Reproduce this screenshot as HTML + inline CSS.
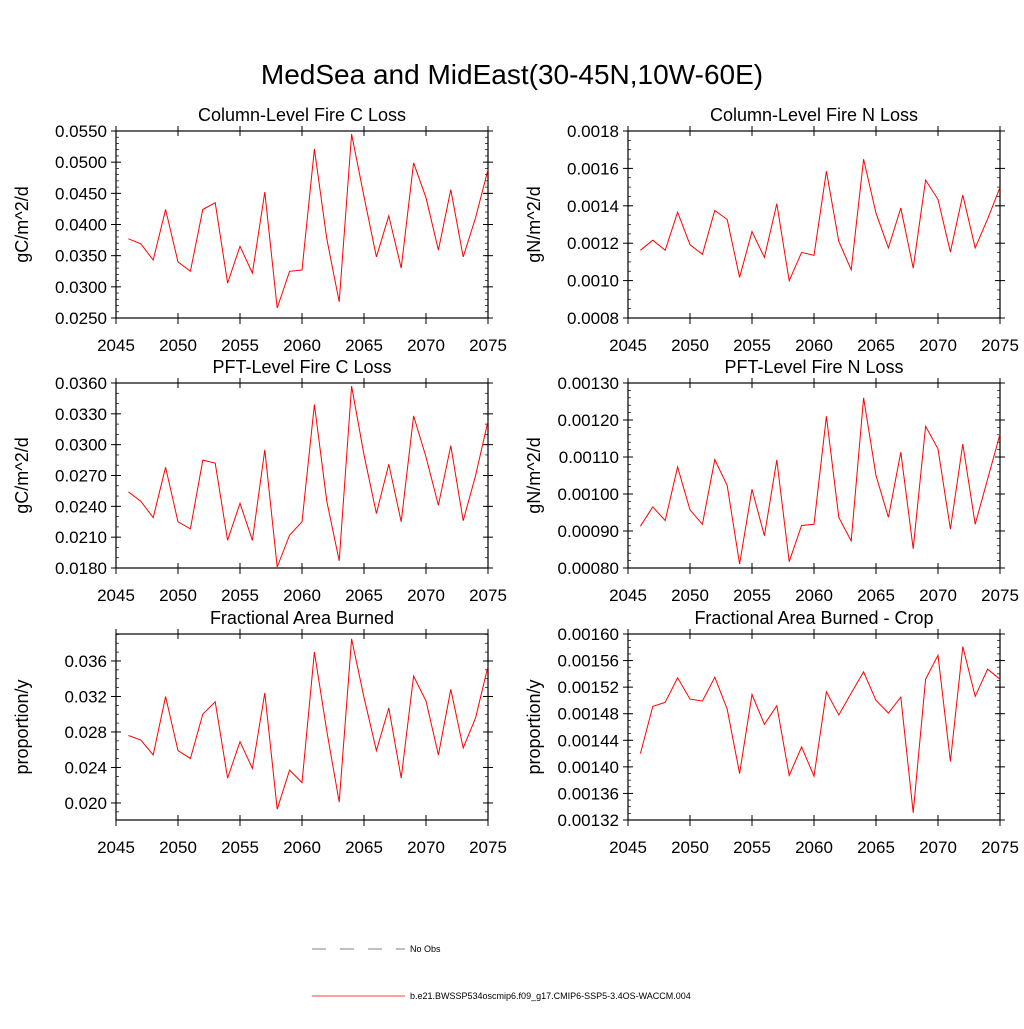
<!DOCTYPE html>
<html><head><meta charset="utf-8"><style>
body{margin:0;background:#fff;}
svg text{font-family:"Liberation Sans",sans-serif;fill:#000;}
</style></head><body>
<svg id="fig" width="1024" height="1024" viewBox="0 0 1024 1024" xmlns="http://www.w3.org/2000/svg">
<text x="512" y="84" font-size="28" text-anchor="middle">MedSea and MidEast(30-45N,10W-60E)</text>
<g id="panels"></g>
<g>
<line x1="312" y1="949" x2="405" y2="949" stroke="#000" stroke-width="0.6" stroke-dasharray="14,14"/>
<text x="410" y="952" font-size="9">No Obs</text>
<line x1="312" y1="996" x2="405" y2="996" stroke="#ff0000" stroke-width="0.8"/>
<text x="410" y="999" font-size="9">b.e21.BWSSP534oscmip6.f09_g17.CMIP6-SSP5-3.4OS-WACCM.004</text>
</g>
</svg>
<script>
const years = [2046,2047,2048,2049,2050,2051,2052,2053,2054,2055,2056,2057,2058,2059,2060,2061,2062,2063,2064,2065,2066,2067,2068,2069,2070,2071,2072,2073,2074,2075];
const xTicks = [2045,2050,2055,2060,2065,2070,2075];
const colCLoss = [0.0377,0.0369,0.0343,0.0424,0.0340,0.0325,0.0424,0.0435,0.0306,0.0365,0.0322,0.0452,0.0266,0.0325,0.0327,0.0521,0.0377,0.0276,0.0545,0.0445,0.0348,0.0414,0.0330,0.0499,0.0443,0.0359,0.0456,0.0348,0.0411,0.0488];
const colNLoss = [0.001162,0.001216,0.001162,0.001366,0.001192,0.001140,0.001375,0.001327,0.001017,0.001262,0.001124,0.001411,0.000999,0.001151,0.001135,0.001585,0.001210,0.001058,0.001649,0.001361,0.001175,0.001388,0.001067,0.001538,0.001434,0.001153,0.001458,0.001175,0.001329,0.001499];
const pftCLoss = [0.0254,0.0245,0.0229,0.0278,0.0225,0.0218,0.0285,0.0282,0.0207,0.0243,0.0207,0.0295,0.0181,0.0212,0.0225,0.0339,0.0245,0.0187,0.0357,0.0290,0.0233,0.0281,0.0225,0.0328,0.0288,0.0241,0.0299,0.0226,0.0270,0.0323];
const pftNLoss = [0.000913,0.000965,0.000928,0.001073,0.000957,0.000918,0.001093,0.001023,0.000811,0.001013,0.000887,0.001092,0.000817,0.000915,0.000918,0.001210,0.000937,0.000873,0.001260,0.001050,0.000937,0.001113,0.000852,0.001183,0.001122,0.000905,0.001135,0.000918,0.001040,0.001162];
const areaBurned = [0.0276,0.0271,0.0254,0.0320,0.0259,0.0250,0.0300,0.0314,0.0228,0.0269,0.0239,0.0324,0.0193,0.0237,0.0223,0.0370,0.0281,0.0201,0.0385,0.0319,0.0259,0.0307,0.0228,0.0343,0.0315,0.0254,0.0328,0.0262,0.0296,0.0354];
const areaCrop = [0.00142,0.001491,0.001497,0.001534,0.001502,0.001499,0.001535,0.001487,0.00139,0.001509,0.001464,0.001492,0.001387,0.00143,0.001386,0.001513,0.001478,0.001511,0.001543,0.0015,0.001481,0.001505,0.001331,0.001532,0.001568,0.001408,0.001581,0.001506,0.001547,0.001532];
const tickColC = [0.025,0.030,0.035,0.040,0.045,0.050,0.055];
const tickColN = [0.0008,0.0010,0.0012,0.0014,0.0016,0.0018];
const tickPftC = [0.018,0.021,0.024,0.027,0.030,0.033,0.036];
const tickPftN = [0.0008,0.0009,0.0010,0.0011,0.0012,0.0013];
const tickArea = [0.020,0.024,0.028,0.032,0.036];
const tickCrop = [0.00132,0.00136,0.00140,0.00144,0.00148,0.00152,0.00156,0.00160];

const NS="http://www.w3.org/2000/svg";
const root=document.getElementById('panels');
function mk(tag,attrs,parent){const e=document.createElementNS(NS,tag);for(const k in attrs)e.setAttribute(k,attrs[k]);parent.appendChild(e);return e;}
const panels=[
 {name:'column-c-loss',title:'Column-Level Fire C Loss',yl:'gC/m^2/d',x0:116,x1:488,y0:131,y1:318,ymin:0.025,ymax:0.055,ticks:tickColC,dec:4,minor:0.001,data:colCLoss},
 {name:'column-n-loss',title:'Column-Level Fire N Loss',yl:'gN/m^2/d',x0:628,x1:1000,y0:131,y1:318,ymin:0.0008,ymax:0.0018,ticks:tickColN,dec:4,minor:0.00005,data:colNLoss},
 {name:'pft-c-loss',title:'PFT-Level Fire C Loss',yl:'gC/m^2/d',x0:116,x1:488,y0:383,y1:568,ymin:0.018,ymax:0.036,ticks:tickPftC,dec:4,minor:0.001,data:pftCLoss},
 {name:'pft-n-loss',title:'PFT-Level Fire N Loss',yl:'gN/m^2/d',x0:628,x1:1000,y0:383,y1:568,ymin:0.0008,ymax:0.0013,ticks:tickPftN,dec:5,minor:0.00002,data:pftNLoss},
 {name:'area-burned',title:'Fractional Area Burned',yl:'proportion/y',x0:116,x1:488,y0:634,y1:820,ymin:0.01808,ymax:0.03904,ticks:tickArea,dec:3,minor:0.001,data:areaBurned},
 {name:'area-burned-crop',title:'Fractional Area Burned - Crop',yl:'proportion/y',x0:628,x1:1000,y0:634,y1:820,ymin:0.00132,ymax:0.0016,ticks:tickCrop,dec:5,minor:0.00001,data:areaCrop}
];
panels.forEach(p=>{
 const g=mk('g',{},root);
 
 
 const X=v=>p.x0+(v-2045)/30*(p.x1-p.x0);
 const Y=v=>p.y1-(v-p.ymin)/(p.ymax-p.ymin)*(p.y1-p.y0);
 const t=mk('text',{x:(p.x0+p.x1)/2,y:p.y0-10,'font-size':18,'text-anchor':'middle'},g);t.textContent=p.title;
 
 
 const yl=mk('text',{x:0,y:0,'font-size':18,'text-anchor':'middle',transform:`translate(${p.x0-88},${(p.y0+p.y1)/2}) rotate(-90)`},g);yl.textContent=p.yl;
 
 
 // minor y ticks
 for(let v=Math.ceil(p.ymin/p.minor-1e-6)*p.minor;v<=p.ymax+1e-12;v+=p.minor){
  const y=Y(v);
  mk('line',{x1:p.x0,y1:y,x2:p.x0+3,y2:y,stroke:'#000','stroke-width':0.7},g);
  mk('line',{x1:p.x1,y1:y,x2:p.x1-3,y2:y,stroke:'#000','stroke-width':0.7},g);
 }
 p.ticks.forEach(v=>{
  const y=Y(v);
  mk('line',{x1:p.x0-5,y1:y,x2:p.x0+5,y2:y,stroke:'#000','stroke-width':1},g);
  mk('line',{x1:p.x1-5,y1:y,x2:p.x1+5,y2:y,stroke:'#000','stroke-width':1},g);
  const tl=mk('text',{x:p.x0-9,y:y+6,'font-size':17,'text-anchor':'end'},g);tl.textContent=v.toFixed(p.dec);
  
  
 });
 xTicks.forEach(v=>{
  const x=X(v);
  mk('line',{x1:x,y1:p.y1-5,x2:x,y2:p.y1+6,stroke:'#000','stroke-width':1},g);
  mk('line',{x1:x,y1:p.y0-5,x2:x,y2:p.y0+5,stroke:'#000','stroke-width':1},g);
  const tl=mk('text',{x:x,y:p.y1+33,'font-size':17,'text-anchor':'middle'},g);tl.textContent=v;
  
  
 });
 const fr=mk('rect',{x:p.x0,y:p.y0,width:p.x1-p.x0,height:p.y1-p.y0,fill:'none',stroke:'#000','stroke-width':1.2},g);
 
 
 const pts=years.map((yr,i)=>X(yr).toFixed(1)+','+Y(p.data[i]).toFixed(1)).join(' ');
 const ln=mk('polyline',{points:pts,fill:'none',stroke:'#ff0000','stroke-width':1},g);
 
 
});
</script>
</body></html>
